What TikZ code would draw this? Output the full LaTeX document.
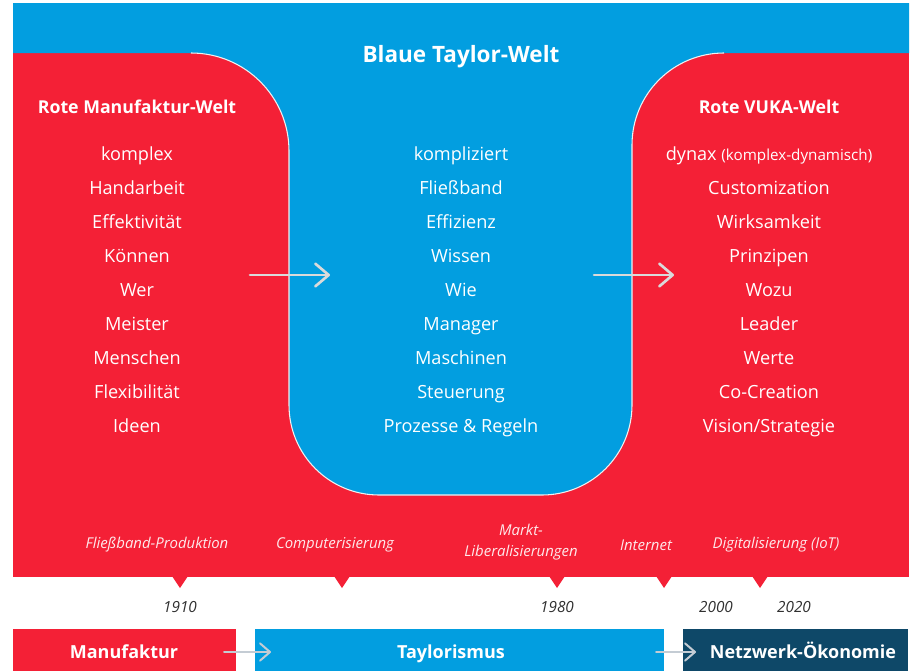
\documentclass[tikz,border=0pt]{standalone}
\usepackage{fontspec}
\setmainfont{Open Sans}
\usepackage{tikz}
\usetikzlibrary{arrows.meta}

\definecolor{taylorBlue}{RGB}{2,158,224}
\definecolor{manuRed}{RGB}{244,32,54}
\definecolor{netNavy}{RGB}{14,72,104}
\definecolor{arrowGray}{RGB}{218,218,218}
\definecolor{eraArrowGray}{RGB}{196,204,212}
\definecolor{yearGray}{RGB}{48,48,48}

\begin{document}
\begin{tikzpicture}[x=0.75pt,y=0.75pt,yscale=-1,xscale=1,
    word/.style={text=white, font=\fontsize{13.6}{16}\selectfont, inner sep=0pt, anchor=base},
    head/.style={text=white, font=\fontsize{13.3}{16}\selectfont\bfseries, inner sep=0pt, anchor=base},
    event/.style={text=white!90!manuRed, font=\fontsize{11.2}{15.8}\selectfont\itshape, inner sep=0pt, align=center},
    yearlabel/.style={text=yearGray, font=\fontsize{11.5}{14}\selectfont\itshape, inner sep=0pt, anchor=base},
    eralabel/.style={text=white, font=\fontsize{13.5}{16}\selectfont\bfseries, inner sep=0pt, anchor=base},
    shift arrow/.style={draw=arrowGray, line width=2pt, line cap=round, -{Straight Barb[length=10pt,width=17pt,round]}},
    era arrow/.style={draw=eraArrowGray, line width=1.5pt, line cap=round, -{Straight Barb[length=7.5pt,width=13pt,round]}}]
    \useasboundingbox (0,0) rectangle (914,671);

    %Shape: red background
    \fill [manuRed] (13,53) rectangle (909,577);
    %Shape: blue Taylor world
    \fill [taylorBlue] (13,3) -- (909,3) -- (909,53) -- (724,53) arc (270:180:92) -- (632,405) arc (0:90:90) -- (379,495) arc (90:180:90) -- (289,151) arc (0:-90:98) -- (13,53) -- cycle ;
    \draw [white!88!gray, line width=0.8pt] (724,53) arc (270:180:92) -- (632,405) arc (0:90:90) -- (379,495) arc (90:180:90) -- (289,151) arc (0:-90:98) ;

    %Shape: timeline pointers
    \fill [manuRed] (172,576) -- (180,588) -- (188,576) -- cycle ;
    \fill [manuRed] (334,576) -- (342,588) -- (350,576) -- cycle ;
    \fill [manuRed] (549,576) -- (557,588) -- (565,576) -- cycle ;
    \fill [manuRed] (656,576) -- (664,588) -- (672,576) -- cycle ;
    \fill [manuRed] (752,576) -- (760,588) -- (768,576) -- cycle ;

    %Shape: era bars
    \fill [manuRed] (13,629) rectangle (236,671) ;
    \fill [taylorBlue] (255,629) rectangle (664,671) ;
    \fill [netNavy] (683,629) rectangle (908,671) ;

    % Titles
    \node [head, font=\fontsize{16.9}{20}\selectfont\bfseries] (taylorTitle) at (461,62) {Blaue Taylor-Welt};
    \node [head] (manuTitle) at (137,113) {Rote Manufaktur-Welt};
    \node [head] (vukaTitle) at (769,113) {Rote VUKA-Welt};

    % Manufaktur column
    \node [word] (manu1) at (137,160) {komplex};
    \node [word] (manu2) at (137,194) {Handarbeit};
    \node [word] (manu3) at (137,228) {Effektivität};
    \node [word] (manu4) at (137,262) {Können};
    \node [word] (manu5) at (137,296) {Wer};
    \node [word] (manu6) at (137,330) {Meister};
    \node [word] (manu7) at (137,364) {Menschen};
    \node [word] (manu8) at (137,398) {Flexibilität};
    \node [word] (manu9) at (137,432) {Ideen};

    % Taylor column
    \node [word] (taylor1) at (461,160) {kompliziert};
    \node [word] (taylor2) at (461,194) {Fließband};
    \node [word] (taylor3) at (461,228) {Effizienz};
    \node [word] (taylor4) at (461,262) {Wissen};
    \node [word] (taylor5) at (461,296) {Wie};
    \node [word] (taylor6) at (461,330) {Manager};
    \node [word] (taylor7) at (461,364) {Maschinen};
    \node [word] (taylor8) at (461,398) {Steuerung};
    \node [word] (taylor9) at (461,432) {Prozesse \& Regeln};

    % VUKA column
    \node [word] (vuka1) at (769,160) {dynax {\fontsize{11.4}{13}\selectfont(komplex-dynamisch)}};
    \node [word] (vuka2) at (769,194) {Customization};
    \node [word] (vuka3) at (769,228) {Wirksamkeit};
    \node [word] (vuka4) at (769,262) {Prinzipen};
    \node [word] (vuka5) at (769,296) {Wozu};
    \node [word] (vuka6) at (769,330) {Leader};
    \node [word] (vuka7) at (769,364) {Werte};
    \node [word] (vuka8) at (769,398) {Co-Creation};
    \node [word] (vuka9) at (769,432) {Vision/Strategie};

    % Shift arrows
    \coordinate (manuOut) at (250,275);
    \coordinate (taylorIn) at (330,275);
    \coordinate (taylorOut) at (594,275);
    \coordinate (vukaIn) at (674,275);
    \draw [shift arrow] (manuOut) -- (taylorIn);
    \draw [shift arrow] (taylorOut) -- (vukaIn);

    % Events
    \node [event] (evBand) at (157,545) {Fließband-Produktion};
    \node [event] (evComputer) at (335,545) {Computerisierung};
    \node [event] (evMarkt) at (521,542) {Markt-\\Liberalisierungen};
    \node [event] (evInternet) at (646,545) {Internet};
    \node [event] (evDigital) at (776,545) {Digitalisierung (IoT)};

    % Years
    \node [yearlabel] (y1910) at (180,612) {1910};
    \node [yearlabel] (y1980) at (557,612) {1980};
    \node [yearlabel] (y2000) at (716,612) {2000};
    \node [yearlabel] (y2020) at (794,612) {2020};

    % Eras
    \node [eralabel] (eraManu) at (124,658) {Manufaktur};
    \node [eralabel] (eraTaylor) at (451,658) {Taylorismus};
    \node [eralabel] (eraNetz) at (803,658) {Netzwerk-Ökonomie};
    \coordinate (manuEnd) at (224,652);
    \coordinate (taylorStart) at (271,652);
    \coordinate (taylorEnd) at (656,652);
    \coordinate (netzStart) at (696,652);
    \draw [era arrow] (manuEnd) -- (taylorStart);
    \draw [era arrow] (taylorEnd) -- (netzStart);

\end{tikzpicture}
\end{document}
